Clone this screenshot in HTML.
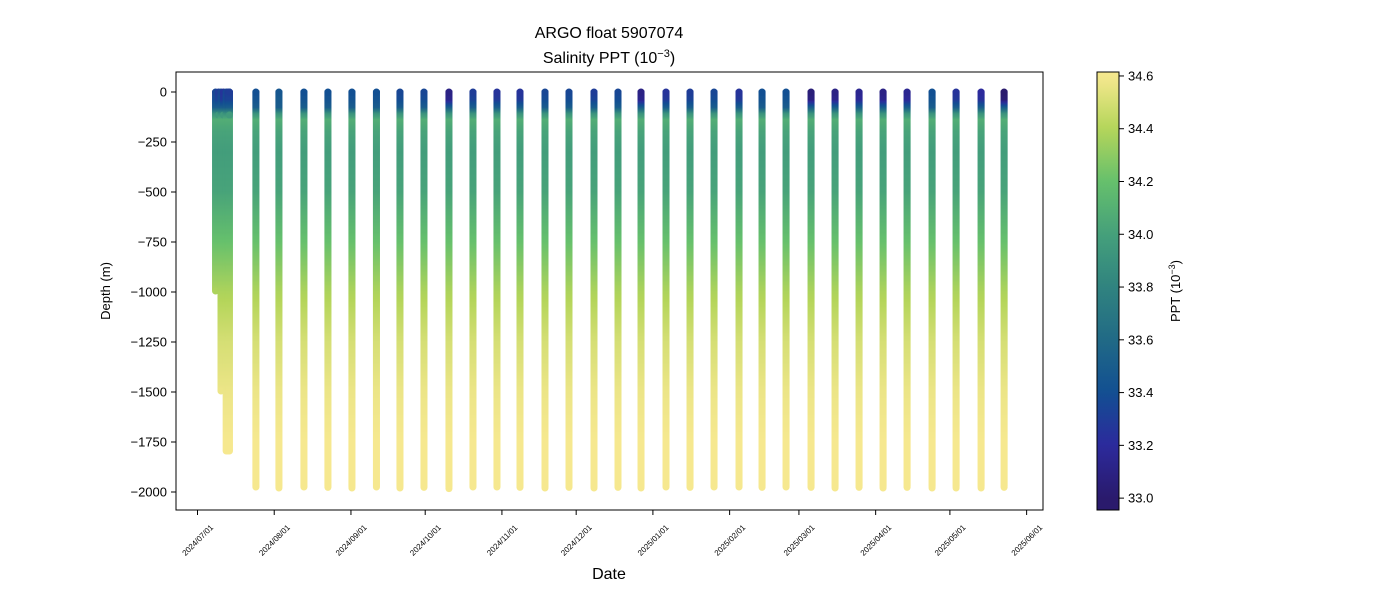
<!DOCTYPE html>
<html><head><meta charset="utf-8"><style>
body{margin:0;background:#fff;}
svg{display:block;font-family:"Liberation Sans","DejaVu Sans",sans-serif;}
</style></head><body>
<svg id="c" width="1400" height="600" viewBox="0 0 1400 600">
<text x="609" y="38" font-size="16" text-anchor="middle">ARGO float 5907074</text>
<text x="609" y="63" font-size="16" text-anchor="middle">Salinity PPT (10<tspan dy="-6" font-size="11">−3</tspan><tspan dy="6">)</tspan></text>
<g id="plot"></g>
<rect x="176" y="72" width="867" height="438" fill="none" stroke="#000" stroke-width="1"/>
<g id="yt"></g>
<g id="xt"></g>
<text x="609" y="579" font-size="16" text-anchor="middle">Date</text>
<text transform="translate(110,291) rotate(-90)" font-size="13" text-anchor="middle">Depth (m)</text>
<defs><linearGradient id="cg" x1="0" y1="1" x2="0" y2="0"></linearGradient></defs>
<rect x="1097" y="72" width="22" height="438" fill="url(#cg)" stroke="#000" stroke-width="1"/>
<g id="ct"></g>
<text transform="translate(1180,291) rotate(-90)" font-size="13" text-anchor="middle">PPT (10<tspan dy="-5" font-size="9">−3</tspan><tspan dy="5">)</tspan></text>
</svg>
<script>
// ---- data ----
const profileDays = [23.6,32.9,43,52.7,62.4,72.3,81.8,91.5,101.6,111.3,121,130.3,140.4,150.1,160.2,169.9,179.2,189.3,199,208.7,218.8,228.1,237.8,247.9,257.6,267.3,277,286.7,296.8,306.5,316.6,325.9];
const surfaceSal = [33.4,33.45,33.4,33.4,33.4,33.4,33.35,33.35,33.1,33.3,33.25,33.25,33.35,33.35,33.3,33.35,33.1,33.25,33.3,33.35,33.25,33.4,33.4,33.05,33.1,33.15,33.1,33.15,33.4,33.25,33.2,33.0];
const maxDepth = [1980,1985,1980,1982,1985,1980,1985,1982,1988,1980,1980,1982,1985,1982,1985,1982,1985,1980,1982,1980,1980,1982,1980,1982,1985,1982,1985,1982,1985,1985,1985,1982];
const earlyDays = [7.3,8.5,9.5,10.5,11.6,12.3,12.9,12.9];
const earlyMax = [1000,120,1500,120,1800,1800,1800,120];
const earlySurface = [33.35,33.3,33.35,33.25,33.35,33.3,33.35,33.3];
const levelDepths = [0,40,80,110,140,200,300,500,750,1000,1250,1500,1750,2000];
const levelSal = [null,null,33.5,33.9,34.08,34.02,33.98,34.02,34.2,34.38,34.5,34.57,34.6,34.62];
const yTicks = [0,-250,-500,-750,-1000,-1250,-1500,-1750,-2000];
const xTickLabels = ["2024/07/01","2024/08/01","2024/09/01","2024/10/01","2024/11/01","2024/12/01","2025/01/01","2025/02/01","2025/03/01","2025/04/01","2025/05/01","2025/06/01"];
const xTickDays = [0,31,62,92,123,153,184,215,243,274,304,335];
const cbTicks = [33.0,33.2,33.4,33.6,33.8,34.0,34.2,34.4,34.6];
const cmapStops = [[0,"#2a1a6c"],[0.125,"#2c2a9c"],[0.25,"#124f92"],[0.375,"#216a86"],[0.5,"#30837f"],[0.625,"#45a07b"],[0.75,"#66c06c"],[0.875,"#b4d55a"],[1,"#f6e88f"]];
// ---- scales ----
const X = d => 197.5 + d*2.475;
const Y = m => 92 - m*0.2;
const sMin=32.955, sMax=34.615;
const CB = s => 510 - (s - sMin)/(sMax - sMin)*438;
const NS="http://www.w3.org/2000/svg";
function hex(h){return [1,3,5].map(i=>parseInt(h.substr(i,2),16));}
function color(s){
  let t=(s-33.0)/1.6; t=Math.max(0,Math.min(1,t));
  for(let i=1;i<cmapStops.length;i++){
    if(t<=cmapStops[i][0]){
      const a=cmapStops[i-1],b=cmapStops[i];const f=(t-a[0])/(b[0]-a[0]);
      const ca=hex(a[1]),cb=hex(b[1]);
      return "rgb("+ca.map((v,k)=>Math.round(v+(cb[k]-v)*f)).join(",")+")";
    }}
  return cmapStops[cmapStops.length-1][1];
}
function salAt(depth,surf){
  const L=levelSal.slice(); L[0]=surf; L[1]=surf+0.03;
  for(let i=1;i<levelDepths.length;i++){
    if(depth<=levelDepths[i]){const f=(depth-levelDepths[i-1])/(levelDepths[i]-levelDepths[i-1]);return L[i-1]+(L[i]-L[i-1])*f;}
  }
  return L[L.length-1];
}
const plot=document.getElementById('plot');
function drawProfile(day,surf,maxd,idx){
  const g=document.createElementNS(NS,'g');
  
  
  const x=X(day);
  for(let d=0; d<=maxd-10; d+=10){
    const r=document.createElementNS(NS,'rect');
    r.setAttribute('x',x-3.5);r.setAttribute('y',Y(-d)-1.5);r.setAttribute('width',7);r.setAttribute('height',3);
    r.setAttribute('fill',color(salAt(d,surf)));
    g.appendChild(r);
  }
  [0,maxd].forEach(d=>{const c=document.createElementNS(NS,'circle');
    c.setAttribute('cx',x);c.setAttribute('cy',Y(-d)+(d?-1:0));c.setAttribute('r',3.5);c.setAttribute('fill',color(salAt(d,surf)));g.appendChild(c);});
  plot.appendChild(g);
}
earlyDays.forEach((d,i)=>drawProfile(d,earlySurface[i],earlyMax[i],'early-'+i));
profileDays.forEach((d,i)=>drawProfile(d,surfaceSal[i],maxDepth[i],i));
// y ticks
const yt=document.getElementById('yt');
yTicks.forEach(v=>{
  const l=document.createElementNS(NS,'line');
  l.setAttribute('x1',171);l.setAttribute('x2',176);l.setAttribute('y1',Y(v));l.setAttribute('y2',Y(v));l.setAttribute('stroke','#000');
  
  
  yt.appendChild(l);
  const t=document.createElementNS(NS,'text');
  t.setAttribute('x',167);t.setAttribute('y',Y(v)+4.5);t.setAttribute('font-size','13');t.setAttribute('text-anchor','end');
  t.textContent=(v<0?'−':'')+Math.abs(v);
  
  
  yt.appendChild(t);
});
// x ticks
const xt=document.getElementById('xt');
xTickDays.forEach((d,i)=>{
  const x=X(d);
  const l=document.createElementNS(NS,'line');
  l.setAttribute('x1',x);l.setAttribute('x2',x);l.setAttribute('y1',510);l.setAttribute('y2',515);l.setAttribute('stroke','#000');
  
  
  xt.appendChild(l);
  const t=document.createElementNS(NS,'text');
  t.setAttribute('transform','translate('+x+',540) rotate(-45)');t.setAttribute('font-size','8');t.setAttribute('text-anchor','middle');t.setAttribute('dy','3');
  t.textContent=xTickLabels[i];
  
  
  xt.appendChild(t);
});
// colorbar
const cg=document.getElementById('cg');
for(let k=0;k<=40;k++){
  const s=sMin+(sMax-sMin)*k/40;
  const st=document.createElementNS(NS,'stop');st.setAttribute('offset',k/40);st.setAttribute('stop-color',color(s));cg.appendChild(st);
}
const ct=document.getElementById('ct');
cbTicks.forEach(v=>{
  const y=CB(v);
  const l=document.createElementNS(NS,'line');
  l.setAttribute('x1',1119);l.setAttribute('x2',1124);l.setAttribute('y1',y);l.setAttribute('y2',y);l.setAttribute('stroke','#000');
  
  
  ct.appendChild(l);
  const t=document.createElementNS(NS,'text');
  t.setAttribute('x',1128);t.setAttribute('y',y+4.5);t.setAttribute('font-size','13');
  t.textContent=v.toFixed(1);
  
  
  ct.appendChild(t);
});
</script>
</body></html>
